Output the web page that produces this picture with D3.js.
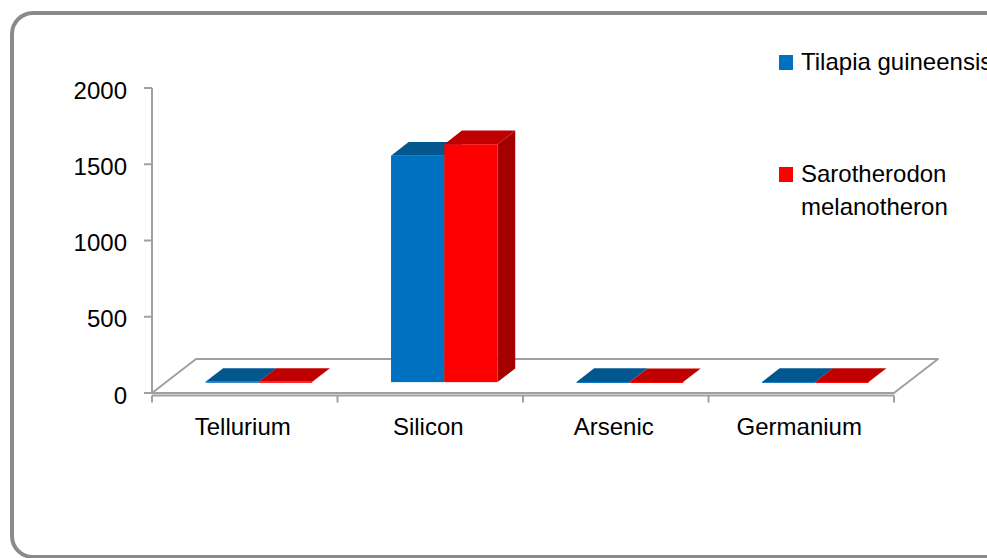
<!DOCTYPE html>
<html>
<head>
<meta charset="utf-8">
<script src="https://cdn.jsdelivr.net/npm/d3@7"></script>
<style>
  body { margin: 0; background: #fff; }
  svg { display: block; font-family: "Liberation Sans", Arial, sans-serif; }
</style>
</head>
<body>
<div id="chart"></div>
<script>
// data
var categories = ["Tellurium", "Silicon", "Arsenic", "Germanium"];
var seriesNames = ["Tilapia guineensis", "Sarotherodon melanotheron"];
var tilapia = [2.1, 1485, 1.2, 1.5];
var sarotherodon = [1.8, 1560, 0.9, 1.1];
var yTicks = [0, 500, 1000, 1500, 2000];

var colors = [
  { front: "#0070c0", top: "#03578f", side: "#004f86" },
  { front: "#ff0000", top: "#c00000", side: "#a50000" }
];

var W = 987, H = 558;
var svg = d3.select("#chart").append("svg")
  .attr("width", W)
  .attr("height", H);

// outer frame (runs off the right / bottom of the window)
svg.append("rect")
  .attr("x", 12).attr("y", 13)
  .attr("width", 1000).attr("height", 544)
  .attr("rx", 21).attr("ry", 21)
  .attr("fill", "#fff")
  .attr("stroke", "#8a8a8a")
  .attr("stroke-width", 4);

// scales
var x = d3.scaleBand().domain(categories).range([152, 894]);
var xSub = d3.scaleBand().domain(d3.range(seriesNames.length))
  .range([0, x.bandwidth()]).paddingOuter(0.74);
var y = d3.scaleLinear().domain([0, 2000]).range([393, 88]);

// oblique depth: z in [0,1] moves right and up
var depthX = 44, depthY = 34;
var z0 = 0.32, z1 = 0.72;
function P(px, py, z) { return [px + z * depthX, py - z * depthY]; }
function poly(pts) { return pts.map(function(p) { return p.join(","); }).join(" "); }

var grey = "#a0a0a0";

// floor
var x0 = x.range()[0], x1 = x.range()[1];
svg.append("polygon")
  .attr("points", poly([P(x0, y(0), 0), P(x1, y(0), 0), P(x1, y(0), 1), P(x0, y(0), 1)]))
  .attr("fill", "#fff")
  .attr("stroke", grey)
  .attr("stroke-width", 2)
  .attr("stroke-linejoin", "round");

// value axis
var gY = svg.append("g");
gY.append("line")
  .attr("x1", x0).attr("x2", x0)
  .attr("y1", y(2000)).attr("y2", y(0))
  .attr("stroke", grey).attr("stroke-width", 2);
gY.selectAll(".tk").data(yTicks).enter().append("line")
  .attr("x1", x0 - 8).attr("x2", x0)
  .attr("y1", function(d) { return y(d); })
  .attr("y2", function(d) { return y(d); })
  .attr("stroke", grey).attr("stroke-width", 2);
gY.selectAll(".lb").data(yTicks).enter().append("text")
  .attr("x", 127)
  .attr("y", function(d) { return y(d) + 10.5; })
  .attr("text-anchor", "end")
  .attr("font-size", 24)
  .attr("fill", "#000")
  .text(function(d) { return d; });

// category axis
var gX = svg.append("g");
var axisY = y(0) + 2.5;
gX.append("line")
  .attr("x1", x0).attr("x2", x1)
  .attr("y1", axisY).attr("y2", axisY)
  .attr("stroke", grey).attr("stroke-width", 2);
var bounds = categories.map(function(c) { return x(c); }).concat([x1]);
gX.selectAll(".tk").data(bounds).enter().append("line")
  .attr("x1", function(d) { return d; })
  .attr("x2", function(d) { return d; })
  .attr("y1", axisY).attr("y2", axisY + 7)
  .attr("stroke", grey).attr("stroke-width", 2);
gX.selectAll(".lb").data(categories).enter().append("text")
  .attr("x", function(d) { return x(d) + x.bandwidth() / 2 - 2; })
  .attr("y", 435)
  .attr("text-anchor", "middle")
  .attr("font-size", 24)
  .attr("fill", "#000")
  .text(function(d) { return d; });

// 3D columns
var bars = [];
categories.forEach(function(c, i) {
  [tilapia[i], sarotherodon[i]].forEach(function(v, s) {
    bars.push({ cat: c, s: s, v: v });
  });
});

var gBars = svg.append("g");
bars.forEach(function(b) {
  var left = x(b.cat) + xSub(b.s);
  var right = left + xSub.bandwidth();
  var top = y(b.v), base = y(0);
  var col = colors[b.s];
  var g = gBars.append("g");
  // right side
  g.append("polygon")
    .attr("points", poly([P(right, base, z0), P(right, base, z1), P(right, top, z1), P(right, top, z0)]))
    .attr("fill", col.side);
  // top
  g.append("polygon")
    .attr("points", poly([P(left, top, z0), P(right, top, z0), P(right, top, z1), P(left, top, z1)]))
    .attr("fill", col.top);
  // front
  var f0 = P(left, top, z0), f1 = P(right, base, z0);
  g.append("rect")
    .attr("x", f0[0]).attr("y", f0[1])
    .attr("width", f1[0] - f0[0])
    .attr("height", Math.max(1, f1[1] - f0[1]))
    .attr("fill", col.front);
});

// legend
var legend = svg.append("g");
var legendRows = [
  { lines: ["Tilapia guineensis"], y: 70 },
  { lines: ["Sarotherodon", "melanotheron"], y: 182 }
];
legendRows.forEach(function(r, i) {
  legend.append("rect")
    .attr("x", 779).attr("y", r.y - 15)
    .attr("width", 14).attr("height", 15)
    .attr("fill", colors[i].front);
  legend.append("text")
    .attr("x", 801).attr("y", r.y)
    .attr("font-size", 24)
    .attr("fill", "#000")
    .selectAll("tspan").data(r.lines).enter().append("tspan")
    .attr("x", 801)
    .attr("dy", function(d, k) { return k === 0 ? 0 : 33; })
    .text(function(d) { return d; });
});
</script>
</body>
</html>
